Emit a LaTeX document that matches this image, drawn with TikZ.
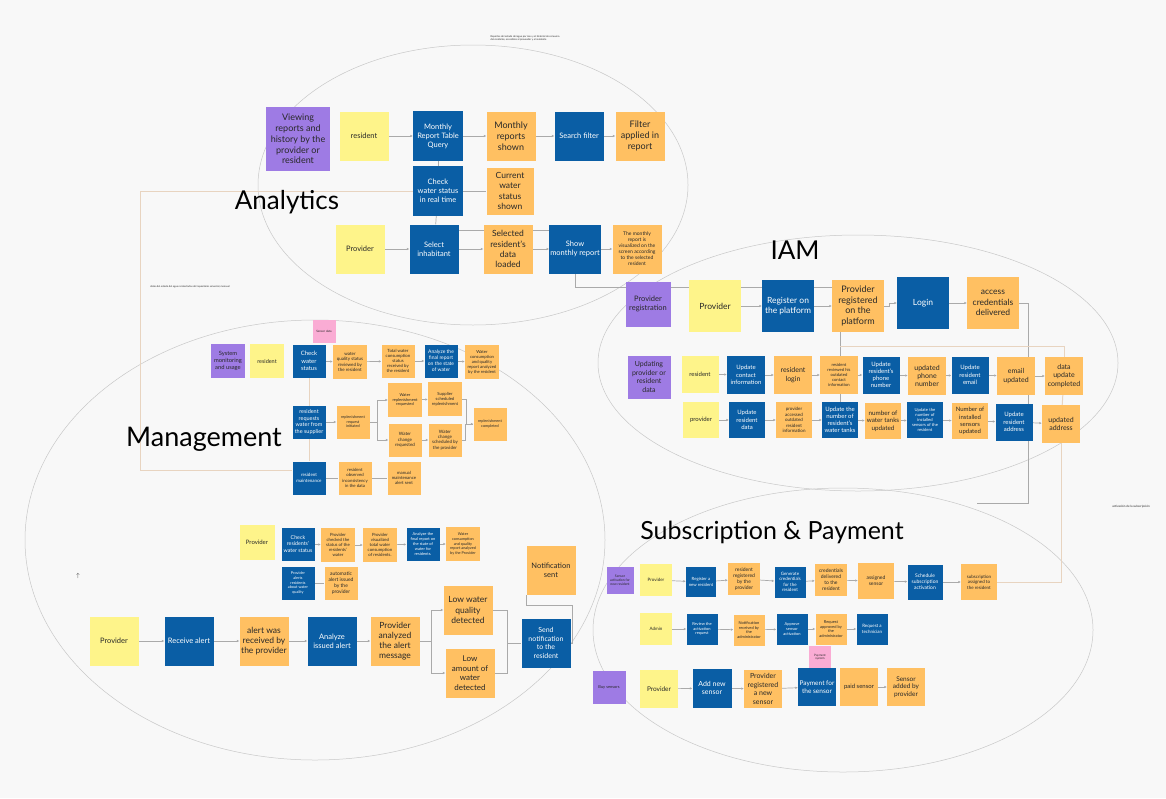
\documentclass[tikz,border=0pt]{standalone}
\usepackage{fontspec}
\setmainfont{Lato}
\usetikzlibrary{arrows.meta}

\definecolor{paper}{RGB}{248,248,248}
\definecolor{stickypurple}{RGB}{158,123,228}
\definecolor{stickyyellow}{RGB}{254,244,138}
\definecolor{stickyblue}{RGB}{10,94,165}
\definecolor{stickyorange}{RGB}{255,192,98}
\definecolor{stickypink}{RGB}{250,172,212}
\definecolor{inkdark}{RGB}{40,40,40}
\definecolor{ringgray}{RGB}{200,200,200}
\definecolor{wiregray}{RGB}{170,170,170}
\definecolor{wiretan}{RGB}{232,212,192}

\newcommand\fs[1]{\pgfmathsetmacro\fslead{1.2*#1}\fontsize{#1}{\fslead}\selectfont}

\pgfdeclarelayer{bg}
\pgfdeclarelayer{edges}
\pgfsetlayers{bg,edges,main}

\tikzset{
  sq/.style={minimum width=#1pt, minimum height=#1pt, inner sep=1pt, align=center},
  actor/.style={fill=stickyyellow, text=inkdark},
  command/.style={fill=stickyblue, text=white},
  event/.style={fill=stickyorange, text=inkdark},
  context/.style={fill=stickypurple, text=inkdark},
  external/.style={fill=stickypink, text=inkdark},
  ring/.style={draw=ringgray, line width=0.5pt},
  flow/.style={draw=wiregray, line width=0.7pt, -{Latex[length=2.5pt,width=2.5pt]}},
  link/.style={draw=wiregray, line width=0.7pt},
  trunk/.style={draw=wiretan, line width=1pt},
  area/.style={font=\fs{26}, text=black},
  note/.style={font=\fs{2.5}, text=inkdark, align=left},
}

\begin{document}
\begin{tikzpicture}[x=1pt, y=-1pt]
	\useasboundingbox (0,0) rectangle (1166,798);
	\begin{pgfonlayer}{bg}
		% Hintergrund und Bereiche
		\fill [paper] (0,0) rectangle (1166,798);
		\draw [ring] (473,185) ellipse [x radius=215pt, y radius=140pt];
		\draw [ring] (858,363) ellipse [x radius=260pt, y radius=128pt];
		\draw [ring] (315,540) ellipse [x radius=290pt, y radius=220pt];
		\draw [ring] (843,630) ellipse [x radius=250pt, y radius=142pt];
	\end{pgfonlayer}

	% Bereichsnamen
	\node [area] (lblAnalytics) at (287,202) {Analytics};
	\node [area] (lblIam) at (795,250) {IAM};
	\node [area, font=\fs{27}] (lblManagement) at (204,439) {Management};
	\node [area, font=\fs{25}] (lblSubscription) at (772,532) {Subscription \& Payment};
	\node [note] (noteTop) at (525,38) {Reportes del estado del agua por mes y el historial de consumo\\del residente, accesibles al proveedor y al residente};
	\node [note] (noteLeft) at (190,287) {datos del estado del agua recolectados del repositorio sensorial, mensual};
	\node [note, font=\fs{3}] (noteRight) at (1131,507) {activación de la subscripción};
	\node [font=\fs{6}, text=inkdark] (tick) at (78,576) {$\uparrow$};

	% Analytics
	\node [context, sq=64, font=\fs{9}] (view) at (298,139) {Viewing\\reports and\\history by the\\provider or\\resident};
	\node [actor, sq=49, font=\fs{7.5}] (resA) at (364,136) {resident};
	\node [command, sq=50, font=\fs{7.5}] (mrtq) at (438,136) {Monthly\\Report Table\\Query};
	\node [event, sq=49, font=\fs{9}] (mrs) at (511,136) {Monthly\\reports\\shown};
	\node [command, sq=49, font=\fs{7.5}] (sfilt) at (579,136) {Search filter};
	\node [event, sq=49, font=\fs{9}] (fapp) at (640,136) {Filter\\applied in\\report};
	\node [command, sq=50, font=\fs{7.5}] (cws) at (438,191) {Check\\water status\\in real time};
	\node [event, sq=47, font=\fs{8.5}] (cwss) at (510,191) {Current\\water\\status\\shown};
	\node [actor, sq=49, font=\fs{7.5}] (provA) at (360,249) {Provider};
	\node [command, sq=49, font=\fs{7.5}] (selinh) at (434,249) {Select\\inhabitant};
	\node [event, sq=49, font=\fs{8.5}] (seldata) at (508,249) {Selected\\resident's\\data\\loaded};
	\node [command, sq=49, font=\fs{7.5}] (showrep) at (575,249) {Show\\monthly report};
	\node [event, sq=49, font=\fs{5}] (visrep) at (637,249) {The monthly\\report is\\visualized on the\\screen according\\to the selected\\resident};

	% IAM
	\node [context, sq=45, font=\fs{7.5}] (provreg) at (648,304) {Provider\\registration};
	\node [actor, sq=52, font=\fs{8.5}] (provB) at (715,306) {Provider};
	\node [command, sq=52, font=\fs{8.5}] (regplat) at (788,306) {Register on\\the platform};
	\node [event, sq=52, font=\fs{9}] (provregd) at (858,306) {Provider\\registered\\on the\\platform};
	\node [command, sq=52, font=\fs{8.5}] (login) at (923,303) {Login};
	\node [event, sq=52, font=\fs{8.5}] (access) at (993,303) {access\\credentials\\delivered};
	\node [context, sq=43, font=\fs{7}] (upd) at (649,377) {Updating\\provider or\\resident\\data};
	\node [actor, sq=37, font=\fs{6}] (resB) at (700,374) {resident};
	\node [command, sq=38, font=\fs{6}] (ucontact) at (746,375) {Update\\contact\\information};
	\node [event, sq=38, font=\fs{7}] (reslogin) at (793,375) {resident\\login};
	\node [event, sq=38, font=\fs{4.2}] (resrev) at (839,375) {resident\\reviewed his\\outdated\\contact\\information};
	\node [command, sq=37, font=\fs{6}] (uphone) at (881,375) {Update\\resident's\\phone\\number};
	\node [event, sq=38, font=\fs{7}] (uphoned) at (927,376) {updated\\phone\\number};
	\node [command, sq=37, font=\fs{6}] (uemail) at (970,375) {Update\\resident\\email};
	\node [event, sq=38, font=\fs{7}] (emailupd) at (1016,376) {email\\updated};
	\node [event, sq=38, font=\fs{7}] (dataupd) at (1064,376) {data\\update\\completed};
	\node [actor, sq=36, font=\fs{6}] (provC) at (701,420) {provider};
	\node [command, sq=36, font=\fs{6}] (uresdata) at (747,420) {Update\\resident\\data};
	\node [event, sq=36, font=\fs{4.5}] (provacc) at (794,420) {provider\\accessed\\outdated\\resident\\information};
	\node [command, sq=36, font=\fs{6}] (utanks) at (840,420) {Update the\\number of\\resident's\\water tanks};
	\node [event, sq=36, font=\fs{6.3}] (tanksupd) at (883,421) {number of\\water tanks\\updated};
	\node [command, sq=36, font=\fs{4.2}] (usens) at (925,420) {Update the\\number of\\installed\\sensors of the\\resident};
	\node [event, sq=36, font=\fs{6}] (sensupd) at (970,421) {Number of\\installed\\sensors\\updated};
	\node [command, sq=37, font=\fs{6}] (uaddr) at (1014,422) {Update\\resident\\address};
	\node [event, sq=38, font=\fs{7}] (addrupd) at (1061,424) {updated\\address};

	% Management
	\node [external, sq=23, font=\fs{3}] (sensdata) at (324,331) {Sensor data};
	\node [context, sq=34, font=\fs{5.8}] (sysmon) at (228,361) {System\\monitoring\\and usage};
	\node [actor, sq=34, font=\fs{5.5}] (resC) at (267,361) {resident};
	\node [command, sq=33, font=\fs{6}] (chkws) at (309,361) {Check\\water\\status};
	\node [event, sq=34, font=\fs{4.5}] (wqrev) at (350,362) {water\\quality status\\reviewed by\\the resident};
	\node [event, sq=33, font=\fs{4.3}] (totcons) at (398,361) {Total water\\consumption\\status\\received by\\the resident};
	\node [command, sq=33, font=\fs{5}] (anafin) at (441,361) {Analyze the\\final report\\on the state\\of water};
	\node [event, sq=34, font=\fs{4.2}] (wcqr) at (482,362) {Water\\consumption\\and quality\\report analyzed\\by the resident};
	\node [command, sq=33, font=\fs{5.5}] (reqwater) at (309,422) {resident\\requests\\water from\\the supplier};
	\node [event, sq=33, font=\fs{3.8}] (repinit) at (353,422) {replenishment\\request\\initiated};
	\node [event, sq=34, font=\fs{4}] (wrepreq) at (405,400) {Water\\replenishment\\requested};
	\node [event, sq=34, font=\fs{4.2}] (supsch) at (445,399) {Supplier\\scheduled\\replenishment};
	\node [event, sq=33, font=\fs{3.8}] (repdone) at (490,424) {replenishment\\completed};
	\node [event, sq=33, font=\fs{4.5}] (wchreq) at (405,440) {Water\\change\\requested};
	\node [event, sq=33, font=\fs{4.5}] (wchsch) at (445,440) {Water\\change\\scheduled by\\the provider};
	\node [command, sq=33, font=\fs{4.5}] (resmaint) at (309,478) {resident\\maintenance};
	\node [event, sq=33, font=\fs{4.3}] (resobs) at (355,478) {resident\\observed\\inconsistency\\in the data};
	\node [event, sq=33, font=\fs{4.3}] (manalert) at (404,478) {manual\\maintenance\\alert sent};
	\node [actor, sq=35, font=\fs{6}] (provD) at (257,542) {Provider};
	\node [command, sq=33, font=\fs{5.3}] (chkres) at (298,544) {Check\\residents'\\water status};
	\node [event, sq=34, font=\fs{4.3}] (provchk) at (338,545) {Provider\\checked the\\status of the\\residents'\\water};
	\node [event, sq=34, font=\fs{4.3}] (provvis) at (380,545) {Provider\\visualized\\total water\\consumption\\of residents.};
	\node [command, sq=33, font=\fs{4}] (anafinB) at (423,544) {Analyze the\\final report on\\the state of\\water for\\residents.};
	\node [event, sq=34, font=\fs{3.8}] (wcqrB) at (463,544) {Water\\consumption\\and quality\\report analyzed\\by the Provider};
	\node [command, sq=33, font=\fs{3.8}] (provalert) at (298,583) {Provider\\alerts\\residents\\about water\\quality};
	\node [event, sq=33, font=\fs{5}] (autoalert) at (341,583) {automatic\\alert issued\\by the\\provider};
	\node [actor, sq=49, font=\fs{7.5}] (provE) at (114,641) {Provider};
	\node [command, sq=49, font=\fs{7.5}] (recalert) at (189,641) {Receive alert};
	\node [event, sq=49, font=\fs{8.5}] (alertrec) at (264,641) {alert was\\received by\\the provider};
	\node [command, sq=49, font=\fs{7.5}] (anaalert) at (332,641) {Analyze\\issued alert};
	\node [event, sq=49, font=\fs{8.5}] (provana) at (395,641) {Provider\\analyzed\\the alert\\message};
	\node [event, sq=49, font=\fs{8.5}] (lowq) at (468,610) {Low water\\quality\\detected};
	\node [event, sq=49, font=\fs{8}] (lowamt) at (470,673) {Low\\amount of\\water\\detected};
	\node [command, sq=49, font=\fs{7}] (sendnot) at (546,643) {Send\\notification\\to the\\resident};
	\node [event, sq=49, font=\fs{7.5}] (notsent) at (551,570) {Notification\\sent};

	% Subscription & Payment
	\node [context, sq=27, font=\fs{3.4}] (sensact) at (620,580) {Sensor\\activation for\\new resident};
	\node [actor, sq=32, font=\fs{4.5}] (provF) at (656,580) {Provider};
	\node [command, sq=30, font=\fs{4.3}] (regnew) at (701,582) {Register a\\new resident};
	\node [event, sq=32, font=\fs{5}] (resregd) at (744,579) {resident\\registered\\by the\\provider};
	\node [command, sq=31, font=\fs{4.5}] (gencred) at (790,582) {Generate\\credentials\\for the\\resident};
	\node [event, sq=32, font=\fs{5}] (creddel) at (831,580) {credentials\\delivered\\to the\\resident};
	\node [event, sq=36, font=\fs{5}] (assens) at (876,581) {assigned\\sensor};
	\node [command, sq=35, font=\fs{5}] (schsub) at (925,582) {Schedule\\subscription\\activation};
	\node [event, sq=36, font=\fs{4.5}] (subass) at (979,582) {subscription\\assigned to\\the resident};
	\node [actor, sq=32, font=\fs{4.5}] (admin) at (656,629) {Admin};
	\node [command, sq=31, font=\fs{4}] (revact) at (702,629) {Review the\\activation\\request};
	\node [event, sq=31, font=\fs{4}] (notrec) at (749,630) {Notification\\received by\\the\\administrator};
	\node [command, sq=31, font=\fs{4}] (apprsens) at (792,629) {Approve\\sensor\\activation};
	\node [event, sq=31, font=\fs{4}] (reqappr) at (831,629) {Request\\approved by\\the\\administrator};
	\node [command, sq=31, font=\fs{4.5}] (reqtech) at (872,629) {Request a\\technician};
	\node [external, sq=22, font=\fs{3}] (paysys) at (820,657) {Payment\\system};
	\node [context, sq=33, font=\fs{4}] (buysens) at (609,687) {Buy sensors};
	\node [actor, sq=38, font=\fs{6.5}] (provG) at (659,689) {Provider};
	\node [command, sq=39, font=\fs{7}] (addsens) at (712,688) {Add new\\sensor};
	\node [event, sq=38, font=\fs{7}] (provregsens) at (763,689) {Provider\\registered\\a new\\sensor};
	\node [command, sq=38, font=\fs{6.5}] (paysens) at (817,687) {Payment for\\the sensor};
	\node [event, sq=38, font=\fs{6}] (paidsens) at (859,687) {paid sensor};
	\node [event, sq=38, font=\fs{6.5}] (sensadded) at (906,687) {Sensor\\added by\\provider};

	% Freie Enden
	\coordinate (trunkTop) at (140,191);
	\coordinate (trunkBot) at (140,470);
	\coordinate (accDrop) at (1028,503);
	\coordinate (accEnd) at (977,503);

	\begin{pgfonlayer}{edges}
		% Analytics
		\foreach \src/\dst in {resA/mrtq, mrtq/mrs, mrs/sfilt, sfilt/fapp, provA/selinh, selinh/seldata, seldata/showrep, showrep/visrep}
			\draw [flow] (\src) -- (\dst);
		\draw [link] (mrtq) -- (cws);
		\draw [link] (cws) -- (selinh);
		\draw [link] (cws) -- (cwss);
		\draw [link] ([yshift=-6pt]selinh.north east) -- ([yshift=-6pt]showrep.north west);
		\draw [link] (showrep.south) |- ([yshift=-8pt]provregd.north west);
		\draw [trunk] (cws.west) -- (trunkTop) -- (trunkBot) -- (trunkBot -| resmaint.west);
		% IAM
		\foreach \src/\dst in {provB/regplat, regplat/provregd, login/access, resB/ucontact, ucontact/reslogin, reslogin/resrev, resrev/uphone, uphone/uphoned, uphoned/uemail, uemail/emailupd, emailupd/dataupd, provC/uresdata, uresdata/provacc, provacc/utanks, utanks/tanksupd, tanksupd/usens, usens/sensupd, sensupd/uaddr, uaddr/addrupd}
			\draw [flow] (\src) -- (\dst);
		\draw [flow] (provregd.east) -- ++(5,0) |- (login.west);
		\draw [link] (access.east) -| (accDrop) -- (accEnd);
		\draw [link] (provregd.south -| utanks) -- (utanks.north);
		\draw [trunk] (provregd.south -| utanks) ++(0,14) -| (dataupd.north);
		\draw [trunk] (dataupd) -- (addrupd);
		\draw [trunk] (addrupd.south) |- (subass.east);
		% Management
		\foreach \src/\dst in {chkws/wqrev, wqrev/totcons, totcons/anafin, anafin/wcqr, reqwater/repinit, wrepreq/supsch, wchreq/wchsch, chkres/provchk, provchk/provvis, provvis/anafinB, anafinB/wcqrB, provE/recalert, recalert/alertrec, alertrec/anaalert, anaalert/provana}
			\draw [flow] (\src) -- (\dst);
		\draw [trunk] (chkws) -- (resmaint);
		\draw [link] (repinit.east) -- ++(8,0) coordinate (forkRep);
		\draw [flow] (forkRep) |- (wrepreq.west);
		\draw [flow] (forkRep) |- (wchreq.west);
		\draw [flow] (supsch.east) -- ++(4,0) |- (repdone.west);
		\draw [link] (wchsch.east) -- ++(4,0) |- (repdone.west);
		\draw [link] (resmaint) -- (resobs);
		\draw [link] (resobs) -- (manalert);
		\draw [link] (provalert) -- (autoalert);
		\draw [link] (provana.east) -- ++(12,0) coordinate (forkLow);
		\draw [flow] (forkLow) |- (lowq.west);
		\draw [flow] (forkLow) |- (lowamt.west);
		\draw [link] (lowq.east) -- ++(15,0) |- (sendnot.west);
		\draw [link] (lowamt.east) -- ++(13,0) |- (sendnot.west);
		\draw [link] (sendnot.east) -- ++(2,0) -- ++(0,-38) -| (notsent.south west);
		% Subscription & Payment
		\foreach \src/\dst in {provF/regnew, regnew/resregd, resregd/gencred, gencred/creddel, creddel/assens, assens/schsub, schsub/subass, admin/revact, revact/notrec, notrec/apprsens, apprsens/reqappr, reqappr/reqtech, provG/addsens, addsens/provregsens, provregsens/paysens, paidsens/sensadded}
			\draw [flow] (\src) -- (\dst);
	\end{pgfonlayer}
\end{tikzpicture}
\end{document}
